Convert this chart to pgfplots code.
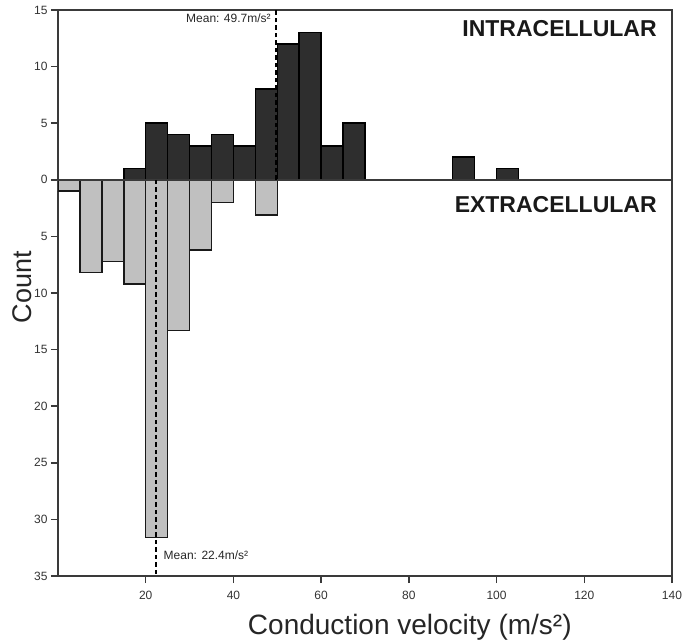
\documentclass[border=0pt]{standalone}
\usepackage{fontspec}
\setmainfont{Liberation Sans}
\usepackage{pgfplots}
\pgfplotsset{compat=1.18}
\definecolor{darkbar}{HTML}{2E2E2E}
\definecolor{lightbar}{HTML}{C0C0C0}
\definecolor{framegray}{HTML}{3A3A3A}
\begin{document}
\begin{tikzpicture}
\useasboundingbox (-58pt,-67pt) rectangle (624pt,576pt);
\begin{axis}[
  at={(0pt,0pt)}, anchor=south west,
  scale only axis, width=614pt, height=566pt,
  xmin=0, xmax=140, ymin=-35, ymax=15,
  xtick={20,40,...,140}, ytick={-35,-30,...,15},
  tick align=outside, tick pos=left,
  major tick length=7pt,
  yticklabel={\pgfmathparse{abs(\tick)}\pgfmathprintnumber{\pgfmathresult}},
  /pgf/number format/assume math mode=true,
  tick label style={font=\fontsize{12}{12}\selectfont, text=black!80},
  xticklabel style={yshift=-5pt},
  axis line style={framegray, line width=1.5pt},
  tick style={framegray, line width=1.5pt},
  xlabel={Conduction velocity (m/s²)}, ylabel={Count},
  label style={font=\fontsize{28}{28}\selectfont, text=black!85},
  xlabel style={at={(axis description cs:0.573,-0.091)}, anchor=center},
  ylabel style={font=\fontsize{27}{27}\selectfont, at={(axis description cs:-0.058,0.51)}, anchor=center},
]
\draw[framegray, line width=1.1pt] (axis cs:20,0) ++(0,-8pt) -- ++(0,15pt);
\draw[framegray, line width=1.1pt] (axis cs:40,0) ++(0,-8pt) -- ++(0,15pt);
\draw[framegray, line width=1.1pt] (axis cs:60,0) ++(0,-8pt) -- ++(0,15pt);
\draw[framegray, line width=1.1pt] (axis cs:80,0) ++(0,-8pt) -- ++(0,15pt);
\draw[framegray, line width=1.1pt] (axis cs:100,0) ++(0,-8pt) -- ++(0,15pt);
\draw[framegray, line width=1.1pt] (axis cs:120,0) ++(0,-8pt) -- ++(0,15pt);
\addplot[ybar, bar width=5, bar shift=0pt, fill=darkbar, draw=black, line width=1.5pt]
  coordinates {(17.5,1) (22.5,5) (27.5,4) (32.5,3) (37.5,4) (42.5,3) (47.5,8) (52.5,12) (57.5,13) (62.5,3) (67.5,5) (92.5,2) (102.5,1)};
\addplot[ybar, bar width=5, bar shift=0pt, fill=lightbar, draw=black!90, line width=1.5pt]
  coordinates {(2.5,-1) (7.5,-8.2) (12.5,-7.2) (17.5,-9.2) (22.5,-31.6) (27.5,-13.3) (32.5,-6.2) (37.5,-2) (47.5,-3.1)};
\draw[framegray, line width=1.5pt] (axis cs:0,0) -- (axis cs:140,0);
\addplot[black, line width=1.8pt, dash pattern=on 4.5pt off 3pt] coordinates {(49.7,0) (49.7,15)};
\addplot[black, line width=1.8pt, dash pattern=on 4.5pt off 3pt] coordinates {(22.4,0) (22.4,-35)};
\node[anchor=east, font=\fontsize{23}{23}\selectfont\bfseries, text=black!90] at (axis cs:137.3,13.4) {INTRACELLULAR};
\node[anchor=east, font=\fontsize{23}{23}\selectfont\bfseries, text=black!90] at (axis cs:137.3,-2.2) {EXTRACELLULAR};
\node[anchor=east, font=\fontsize{12}{12}\selectfont, text=black!85] at (axis cs:49.3,14.3) {Mean: 49.7m/s²};
\node[anchor=west, font=\fontsize{12}{12}\selectfont, text=black!85] at (axis cs:23.3,-33.2) {Mean: 22.4m/s²};
\end{axis}
\end{tikzpicture}
\end{document}
